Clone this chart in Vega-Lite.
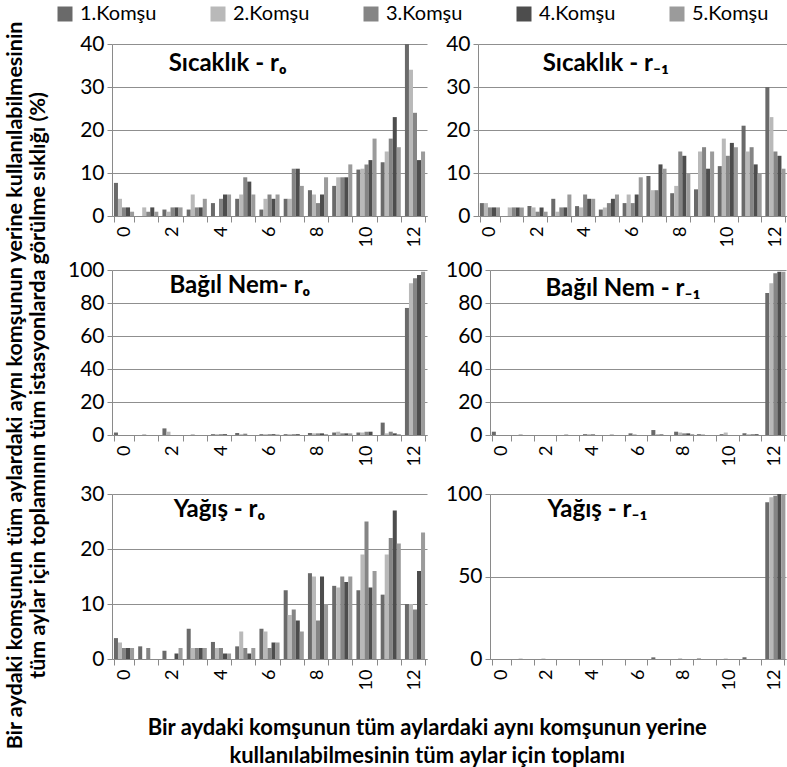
{
  "$schema": "https://vega.github.io/schema/vega-lite/v6.json",
  "padding": {"left": 4, "top": 4, "right": 0, "bottom": 4},
  "config": {
    "font": "Lato",
    "view": {"stroke": null},
    "axis": {"labelFont": "Lato", "labelColor": "#000", "domainColor": "#8a8a8a", "tickColor": "#8a8a8a", "gridColor": "#8f8f8f", "title": null},
    "axisY": {"grid": true, "tickSize": 5, "labelPadding": 3, "labelFontSize": 21},
    "axisX": {"grid": false, "labelAngle": -90, "tickBand": "extent", "tickSize": 6, "labelPadding": 4, "labelFontSize": 18},
    "bar": {"stroke": null}
  },
  "data": {"values": [
    {"p":1,"x":0,"a":7.7,"b":4,"c":2,"d":2,"e":1},
    {"p":1,"x":1,"a":0,"b":2,"c":1,"d":2,"e":1},
    {"p":1,"x":2,"a":1.5,"b":1,"c":2,"d":2,"e":2},
    {"p":1,"x":3,"a":1.5,"b":5,"c":2,"d":2,"e":4},
    {"p":1,"x":4,"a":3,"b":0,"c":4,"d":5,"e":5},
    {"p":1,"x":5,"a":4,"b":5,"c":9,"d":8,"e":5},
    {"p":1,"x":6,"a":1.5,"b":4,"c":5,"d":4,"e":5},
    {"p":1,"x":7,"a":4,"b":4,"c":11,"d":11,"e":7},
    {"p":1,"x":8,"a":6,"b":5,"c":3,"d":5,"e":9},
    {"p":1,"x":9,"a":7,"b":9,"c":9,"d":9,"e":12},
    {"p":1,"x":10,"a":10.8,"b":11,"c":12,"d":13,"e":18},
    {"p":1,"x":11,"a":12.5,"b":15,"c":18,"d":23,"e":16},
    {"p":1,"x":12,"a":40,"b":34,"c":24,"d":13,"e":15},
    {"p":2,"x":0,"a":3,"b":3,"c":2,"d":2,"e":2},
    {"p":2,"x":1,"a":0,"b":2,"c":2,"d":2,"e":2},
    {"p":2,"x":2,"a":2.3,"b":2,"c":1,"d":2,"e":1},
    {"p":2,"x":3,"a":4,"b":1,"c":2,"d":2,"e":5},
    {"p":2,"x":4,"a":2.3,"b":2,"c":5,"d":4,"e":4},
    {"p":2,"x":5,"a":1.5,"b":2,"c":3,"d":4,"e":5},
    {"p":2,"x":6,"a":3,"b":5,"c":3,"d":5,"e":9},
    {"p":2,"x":7,"a":9.3,"b":6,"c":6,"d":12,"e":11},
    {"p":2,"x":8,"a":5.3,"b":7,"c":15,"d":14,"e":10},
    {"p":2,"x":9,"a":6.2,"b":15,"c":16,"d":11,"e":15},
    {"p":2,"x":10,"a":11.6,"b":18,"c":14,"d":17,"e":16},
    {"p":2,"x":11,"a":21,"b":15,"c":16,"d":12,"e":10},
    {"p":2,"x":12,"a":30,"b":23,"c":15,"d":14,"e":11},
    {"p":3,"x":0,"a":1.5,"b":0,"c":0,"d":0,"e":0},
    {"p":3,"x":1,"a":0,"b":0.5,"c":0,"d":0,"e":0},
    {"p":3,"x":2,"a":4,"b":2,"c":0,"d":0,"e":0},
    {"p":3,"x":3,"a":0,"b":0.5,"c":0,"d":0,"e":0},
    {"p":3,"x":4,"a":0.5,"b":0.5,"c":0.5,"d":0.5,"e":0},
    {"p":3,"x":5,"a":1.2,"b":0.5,"c":0.8,"d":0,"e":0},
    {"p":3,"x":6,"a":0.5,"b":0.5,"c":0.5,"d":0.5,"e":0.3},
    {"p":3,"x":7,"a":0.5,"b":0.5,"c":0.5,"d":0.5,"e":0},
    {"p":3,"x":8,"a":1.2,"b":1,"c":1,"d":1,"e":0.5},
    {"p":3,"x":9,"a":1.5,"b":2,"c":1,"d":1,"e":1},
    {"p":3,"x":10,"a":1.5,"b":1.5,"c":2,"d":2,"e":0},
    {"p":3,"x":11,"a":7.5,"b":1,"c":2,"d":1,"e":0.5},
    {"p":3,"x":12,"a":77,"b":92,"c":95,"d":97,"e":99},
    {"p":4,"x":0,"a":2,"b":0,"c":0,"d":0,"e":0},
    {"p":4,"x":1,"a":0,"b":0.5,"c":0,"d":0,"e":0},
    {"p":4,"x":2,"a":0,"b":0,"c":0,"d":0,"e":0},
    {"p":4,"x":3,"a":0,"b":0.5,"c":0,"d":0,"e":0},
    {"p":4,"x":4,"a":0.5,"b":0.5,"c":0.5,"d":0,"e":0},
    {"p":4,"x":5,"a":0,"b":0.5,"c":0,"d":0,"e":0},
    {"p":4,"x":6,"a":1,"b":0.5,"c":0,"d":0,"e":0},
    {"p":4,"x":7,"a":3,"b":0.5,"c":0.5,"d":0,"e":0},
    {"p":4,"x":8,"a":2,"b":1.5,"c":1,"d":1,"e":0.5},
    {"p":4,"x":9,"a":0.5,"b":0.5,"c":0,"d":0,"e":0},
    {"p":4,"x":10,"a":0.5,"b":1.5,"c":0,"d":0,"e":0},
    {"p":4,"x":11,"a":1,"b":0.5,"c":0.5,"d":0.5,"e":0},
    {"p":4,"x":12,"a":86,"b":92,"c":98,"d":99,"e":99},
    {"p":5,"x":0,"a":3.8,"b":3,"c":2,"d":2,"e":2},
    {"p":5,"x":1,"a":2.3,"b":0,"c":2,"d":0,"e":0},
    {"p":5,"x":2,"a":1.5,"b":0,"c":0,"d":1,"e":2},
    {"p":5,"x":3,"a":5.5,"b":2,"c":2,"d":2,"e":2},
    {"p":5,"x":4,"a":3.1,"b":2,"c":2,"d":1,"e":1},
    {"p":5,"x":5,"a":2.3,"b":5,"c":2,"d":1,"e":2},
    {"p":5,"x":6,"a":5.5,"b":5,"c":2,"d":3,"e":3},
    {"p":5,"x":7,"a":12.5,"b":8,"c":9,"d":7,"e":5},
    {"p":5,"x":8,"a":15.6,"b":15,"c":7,"d":15,"e":10},
    {"p":5,"x":9,"a":13.3,"b":13,"c":15,"d":14,"e":15},
    {"p":5,"x":10,"a":12.5,"b":19,"c":25,"d":13,"e":16},
    {"p":5,"x":11,"a":11.7,"b":19,"c":22,"d":27,"e":21},
    {"p":5,"x":12,"a":10,"b":10,"c":9,"d":16,"e":23},
    {"p":6,"x":0,"a":0,"b":0,"c":0,"d":0,"e":0},
    {"p":6,"x":1,"a":0,"b":0.3,"c":0,"d":0,"e":0},
    {"p":6,"x":2,"a":0,"b":0.3,"c":0,"d":0,"e":0},
    {"p":6,"x":3,"a":0,"b":0,"c":0,"d":0,"e":0},
    {"p":6,"x":4,"a":0,"b":0,"c":0,"d":0,"e":0},
    {"p":6,"x":5,"a":0,"b":0,"c":0,"d":0,"e":0},
    {"p":6,"x":6,"a":0,"b":0,"c":0,"d":0,"e":0},
    {"p":6,"x":7,"a":1,"b":0,"c":0,"d":0,"e":0},
    {"p":6,"x":8,"a":0,"b":0.4,"c":0,"d":0,"e":0},
    {"p":6,"x":9,"a":0.3,"b":0,"c":0,"d":0,"e":0},
    {"p":6,"x":10,"a":0,"b":0.3,"c":0,"d":0,"e":0},
    {"p":6,"x":11,"a":1,"b":0,"c":0,"d":0,"e":0},
    {"p":6,"x":12,"a":95,"b":98,"c":99,"d":100,"e":100}
  ]},
  "title": {"text": ["Bir aydaki komşunun tüm aylardaki aynı komşunun yerine kullanılabilmesinin", "tüm aylar için toplamının tüm istasyonlarda görülme sıklığı (%)"], "orient": "left", "anchor": "middle", "font": "Lato", "fontSize": 21.5, "fontWeight": "bold", "color": "#000", "lineHeight": 23, "offset": 6},
  "vconcat": [
    {
      "title": {"text": ["Bir aydaki komşunun tüm aylardaki aynı komşunun yerine", "kullanılabilmesinin tüm aylar için toplamı"], "orient": "bottom", "anchor": "middle", "font": "Lato", "fontSize": 22, "fontWeight": "bold", "color": "#000", "lineHeight": 28, "offset": 28},
      "spacing": 12,
      "vconcat": [
        {"spacing": 18, "hconcat": [
          {"width": 315, "height": 172,
           "title": {"text": "Sıcaklık - rₒ", "anchor": "start", "dx": 89, "offset": -43, "font": "Lato", "fontSize": 24, "fontWeight": "bold", "color": "#000"},
           "transform": [{"filter": "datum.p==1"}, {"fold": ["a","b","c","d","e"], "as": ["s","v"]}],
           "mark": {"type": "bar"},
           "encoding": {
             "x": {"field": "x", "type": "ordinal", "scale": {"paddingInner": 0.17, "paddingOuter": 0.08}, "axis": {"labelExpr": "datum.value % 2 == 0 ? datum.label : ''"}},
             "xOffset": {"field": "s", "type": "nominal", "sort": ["a","b","c","d","e"]},
             "y": {"field": "v", "type": "quantitative", "scale": {"domain": [0, 40], "nice": false}, "axis": {"values": [0,10,20,30,40]}},
             "color": {"field": "s", "type": "nominal", "scale": {"domain": ["a","b","c","d","e"], "range": ["#6a6a6a","#b9b9b9","#858585","#4d4d4d","#9b9b9b"]}, "legend": {"title": null, "orient": "none", "legendX": -57, "legendY": -40, "direction": "horizontal", "symbolType": "square", "symbolSize": 225, "symbolStrokeWidth": 0, "labelFont": "Lato", "labelFontSize": 20, "labelColor": "#000", "labelOffset": 5, "columnPadding": 51, "labelExpr": "datum.label=='a'?'1.Komşu':datum.label=='b'?'2.Komşu':datum.label=='c'?'3.Komşu':datum.label=='d'?'4.Komşu':'5.Komşu'"}}
           }},
          {"width": 309, "height": 172,
           "title": {"text": "Sıcaklık - r₋₁", "anchor": "start", "dx": 97, "offset": -43, "font": "Lato", "fontSize": 24, "fontWeight": "bold", "color": "#000"},
           "transform": [{"filter": "datum.p==2"}, {"fold": ["a","b","c","d","e"], "as": ["s","v"]}],
           "mark": {"type": "bar"},
           "encoding": {
             "x": {"field": "x", "type": "ordinal", "scale": {"paddingInner": 0.17, "paddingOuter": 0.08}, "axis": {"labelExpr": "datum.value % 2 == 0 ? datum.label : ''"}},
             "xOffset": {"field": "s", "type": "nominal", "sort": ["a","b","c","d","e"]},
             "y": {"field": "v", "type": "quantitative", "scale": {"domain": [0, 40], "nice": false}, "axis": {"values": [0,10,20,30,40]}},
             "color": {"field": "s", "type": "nominal", "scale": {"domain": ["a","b","c","d","e"], "range": ["#6a6a6a","#b9b9b9","#858585","#4d4d4d","#9b9b9b"]}, "legend": {"title": null, "orient": "none", "legendX": -57, "legendY": -40, "direction": "horizontal", "symbolType": "square", "symbolSize": 225, "symbolStrokeWidth": 0, "labelFont": "Lato", "labelFontSize": 20, "labelColor": "#000", "labelOffset": 5, "columnPadding": 51, "labelExpr": "datum.label=='a'?'1.Komşu':datum.label=='b'?'2.Komşu':datum.label=='c'?'3.Komşu':datum.label=='d'?'4.Komşu':'5.Komşu'"}}
           }}
        ]},
        {"spacing": 18, "hconcat": [
          {"width": 315, "height": 165,
           "title": {"text": "Bağıl Nem- rₒ", "anchor": "start", "dx": 102, "offset": -39, "font": "Lato", "fontSize": 24, "fontWeight": "bold", "color": "#000"},
           "transform": [{"filter": "datum.p==3"}, {"fold": ["a","b","c","d","e"], "as": ["s","v"]}],
           "mark": {"type": "bar"},
           "encoding": {
             "x": {"field": "x", "type": "ordinal", "scale": {"paddingInner": 0.17, "paddingOuter": 0.08}, "axis": {"labelExpr": "datum.value % 2 == 0 ? datum.label : ''", "minExtent": 36}},
             "xOffset": {"field": "s", "type": "nominal", "sort": ["a","b","c","d","e"]},
             "y": {"field": "v", "type": "quantitative", "scale": {"domain": [0, 100], "nice": false}, "axis": {"values": [0,20,40,60,80,100]}},
             "color": {"field": "s", "type": "nominal", "scale": {"domain": ["a","b","c","d","e"], "range": ["#6a6a6a","#b9b9b9","#858585","#4d4d4d","#9b9b9b"]}, "legend": {"title": null, "orient": "none", "legendX": -57, "legendY": -40, "direction": "horizontal", "symbolType": "square", "symbolSize": 225, "symbolStrokeWidth": 0, "labelFont": "Lato", "labelFontSize": 20, "labelColor": "#000", "labelOffset": 5, "columnPadding": 51, "labelExpr": "datum.label=='a'?'1.Komşu':datum.label=='b'?'2.Komşu':datum.label=='c'?'3.Komşu':datum.label=='d'?'4.Komşu':'5.Komşu'"}}
           }},
          {"width": 296, "height": 165,
           "title": {"text": "Bağıl Nem - r₋₁", "anchor": "start", "dx": 100, "offset": -42, "font": "Lato", "fontSize": 24, "fontWeight": "bold", "color": "#000"},
           "transform": [{"filter": "datum.p==4"}, {"fold": ["a","b","c","d","e"], "as": ["s","v"]}],
           "mark": {"type": "bar"},
           "encoding": {
             "x": {"field": "x", "type": "ordinal", "scale": {"paddingInner": 0.17, "paddingOuter": 0.08}, "axis": {"labelExpr": "datum.value % 2 == 0 ? datum.label : ''", "minExtent": 36}},
             "xOffset": {"field": "s", "type": "nominal", "sort": ["a","b","c","d","e"]},
             "y": {"field": "v", "type": "quantitative", "scale": {"domain": [0, 100], "nice": false}, "axis": {"values": [0,20,40,60,80,100]}},
             "color": {"field": "s", "type": "nominal", "scale": {"domain": ["a","b","c","d","e"], "range": ["#6a6a6a","#b9b9b9","#858585","#4d4d4d","#9b9b9b"]}, "legend": {"title": null, "orient": "none", "legendX": -57, "legendY": -40, "direction": "horizontal", "symbolType": "square", "symbolSize": 225, "symbolStrokeWidth": 0, "labelFont": "Lato", "labelFontSize": 20, "labelColor": "#000", "labelOffset": 5, "columnPadding": 51, "labelExpr": "datum.label=='a'?'1.Komşu':datum.label=='b'?'2.Komşu':datum.label=='c'?'3.Komşu':datum.label=='d'?'4.Komşu':'5.Komşu'"}}
           }}
        ]},
        {"spacing": 18, "hconcat": [
          {"width": 315, "height": 165,
           "title": {"text": "Yağış - rₒ", "anchor": "start", "dx": 94, "offset": -39, "font": "Lato", "fontSize": 24, "fontWeight": "bold", "color": "#000"},
           "transform": [{"filter": "datum.p==5"}, {"fold": ["a","b","c","d","e"], "as": ["s","v"]}],
           "mark": {"type": "bar"},
           "encoding": {
             "x": {"field": "x", "type": "ordinal", "scale": {"paddingInner": 0.17, "paddingOuter": 0.08}, "axis": {"labelExpr": "datum.value % 2 == 0 ? datum.label : ''"}},
             "xOffset": {"field": "s", "type": "nominal", "sort": ["a","b","c","d","e"]},
             "y": {"field": "v", "type": "quantitative", "scale": {"domain": [0, 30], "nice": false}, "axis": {"values": [0,10,20,30]}},
             "color": {"field": "s", "type": "nominal", "scale": {"domain": ["a","b","c","d","e"], "range": ["#6a6a6a","#b9b9b9","#858585","#4d4d4d","#9b9b9b"]}, "legend": {"title": null, "orient": "none", "legendX": -57, "legendY": -40, "direction": "horizontal", "symbolType": "square", "symbolSize": 225, "symbolStrokeWidth": 0, "labelFont": "Lato", "labelFontSize": 20, "labelColor": "#000", "labelOffset": 5, "columnPadding": 51, "labelExpr": "datum.label=='a'?'1.Komşu':datum.label=='b'?'2.Komşu':datum.label=='c'?'3.Komşu':datum.label=='d'?'4.Komşu':'5.Komşu'"}}
           }},
          {"width": 296, "height": 165,
           "title": {"text": "Yağış - r₋₁", "anchor": "start", "dx": 102, "offset": -39, "font": "Lato", "fontSize": 24, "fontWeight": "bold", "color": "#000"},
           "transform": [{"filter": "datum.p==6"}, {"fold": ["a","b","c","d","e"], "as": ["s","v"]}],
           "mark": {"type": "bar"},
           "encoding": {
             "x": {"field": "x", "type": "ordinal", "scale": {"paddingInner": 0.17, "paddingOuter": 0.08}, "axis": {"labelExpr": "datum.value % 2 == 0 ? datum.label : ''"}},
             "xOffset": {"field": "s", "type": "nominal", "sort": ["a","b","c","d","e"]},
             "y": {"field": "v", "type": "quantitative", "scale": {"domain": [0, 100], "nice": false}, "axis": {"values": [0,50,100]}},
             "color": {"field": "s", "type": "nominal", "scale": {"domain": ["a","b","c","d","e"], "range": ["#6a6a6a","#b9b9b9","#858585","#4d4d4d","#9b9b9b"]}, "legend": {"title": null, "orient": "none", "legendX": -57, "legendY": -40, "direction": "horizontal", "symbolType": "square", "symbolSize": 225, "symbolStrokeWidth": 0, "labelFont": "Lato", "labelFontSize": 20, "labelColor": "#000", "labelOffset": 5, "columnPadding": 51, "labelExpr": "datum.label=='a'?'1.Komşu':datum.label=='b'?'2.Komşu':datum.label=='c'?'3.Komşu':datum.label=='d'?'4.Komşu':'5.Komşu'"}}
           }}
        ]}
      ]
    }
  ]
}
